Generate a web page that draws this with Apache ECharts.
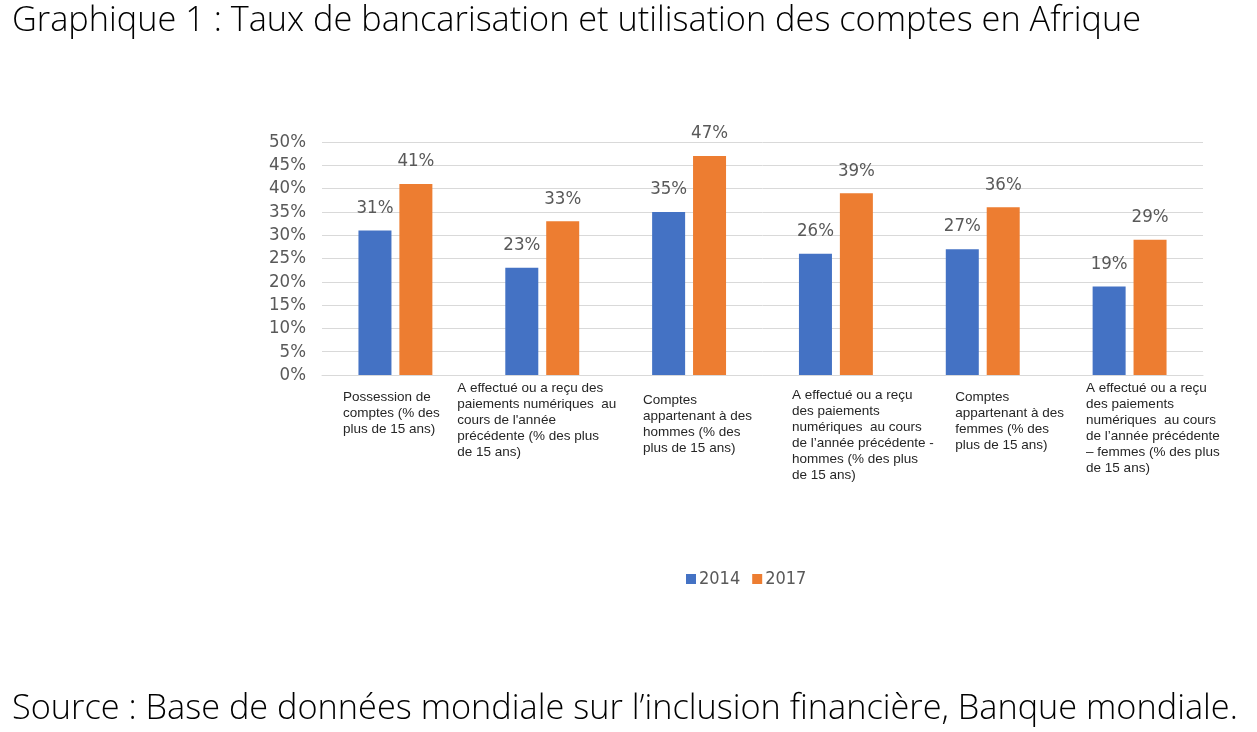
<!DOCTYPE html>
<html lang="fr">
<head>
  <meta charset="UTF-8">
  <title>Graphique 1</title>
  <script src="https://cdn.jsdelivr.net/npm/echarts/dist/echarts.min.js"></script>
  <style>
    html, body { margin: 0; padding: 0; background: #fff; }
    #main { width: 1257px; height: 732px; }
  </style>
</head>
<body>
<div id="main"></div>
<script>
  const chart = echarts.init(document.getElementById('main'));

  const titleText = 'Graphique 1 : Taux de bancarisation et utilisation des comptes en Afrique';
  const sourceText = 'Source : Base de données mondiale sur l’inclusion financière, Banque mondiale.';

  const categories = [
    'Possession de\ncomptes (% des\nplus de 15 ans)',
    'A effectué ou a reçu des\npaiements numériques  au\ncours de l\'année\nprécédente (% des plus\nde 15 ans)',
    'Comptes\nappartenant à des\nhommes (% des\nplus de 15 ans)',
    'A effectué ou a reçu\ndes paiements\nnumériques  au cours\nde l’année précédente -\nhommes (% des plus\nde 15 ans)',
    'Comptes\nappartenant à des\nfemmes (% des\nplus de 15 ans)',
    'A effectué ou a reçu\ndes paiements\nnumériques  au cours\nde l’année précédente\n– femmes (% des plus\nde 15 ans)'
  ];
  const values2014 = [31, 23, 35, 26, 27, 19];
  const values2017 = [41, 33, 47, 39, 36, 29];

  // label box widths and top padding (the labels sit a bit unevenly in the original)
  const labelWidths = [105, 170, 92, 88, 55, 87];
  const labelTops = [9, 0, 12, 7, 9, 0];

  const narrow = '"Liberation Sans Narrow", "DejaVu Sans Condensed", "Liberation Sans", sans-serif';
  const grey = '#595959';
  const bigText = { fontFamily: '"Open Sans", sans-serif', fontWeight: 300, fontSize: 34.3, color: '#000', lineHeight: 40 };

  const rich = {};
  labelWidths.forEach((w, i) => {
    rich['c' + i] = {
      width: w,
      align: 'left',
      fontFamily: '"Liberation Sans", Arial, sans-serif',
      fontSize: 13.5,
      lineHeight: 16,
      color: '#262626'
    };
  });

  chart.setOption({
    animation: false,
    title: [
      { text: titleText, left: 7, top: -4, textStyle: bigText },
      { text: sourceText, left: 7, top: 684, textStyle: bigText }
    ],
    legend: {
      data: ['2014', '2017'],
      left: 681,
      top: 565,
      itemWidth: 10,
      itemHeight: 10,
      itemGap: 12,
      icon: 'rect',
      textStyle: { fontFamily: narrow, fontSize: 18, color: grey, padding: [0, 0, 0, -2] }
    },
    grid: { left: 322, right: 54, top: 142, bottom: 357 },
    xAxis: {
      type: 'category',
      data: categories.map((c, i) => ({ value: c, textStyle: { padding: [labelTops[i], 0, 0, 0] } })),
      axisLine: { lineStyle: { color: '#d9d9d9' } },
      axisTick: { show: false },
      axisLabel: {
        interval: 0,
        margin: 5,
        formatter: (v, i) => '{c' + i + '|' + v + '}',
        rich: rich
      }
    },
    yAxis: {
      type: 'value',
      min: 0,
      max: 50,
      interval: 5,
      axisLine: { show: false },
      axisTick: { show: false },
      splitLine: { lineStyle: { color: '#d9d9d9' } },
      axisLabel: {
        margin: 16,
        formatter: '{value}%',
        fontFamily: narrow,
        fontSize: 18.5,
        color: grey
      }
    },
    series: [
      {
        name: '2014',
        type: 'bar',
        data: values2014,
        barWidth: 33,
        barGap: '24%',
        itemStyle: { color: '#4472C4' },
        label: { show: true, position: 'top', distance: 13, formatter: '{c}%', fontFamily: narrow, fontSize: 18.5, color: grey }
      },
      {
        name: '2017',
        type: 'bar',
        data: values2017,
        barWidth: 33,
        itemStyle: { color: '#ED7D31' },
        label: { show: true, position: 'top', distance: 13, formatter: '{c}%', fontFamily: narrow, fontSize: 18.5, color: grey }
      }
    ]
  });
</script>
</body>
</html>
